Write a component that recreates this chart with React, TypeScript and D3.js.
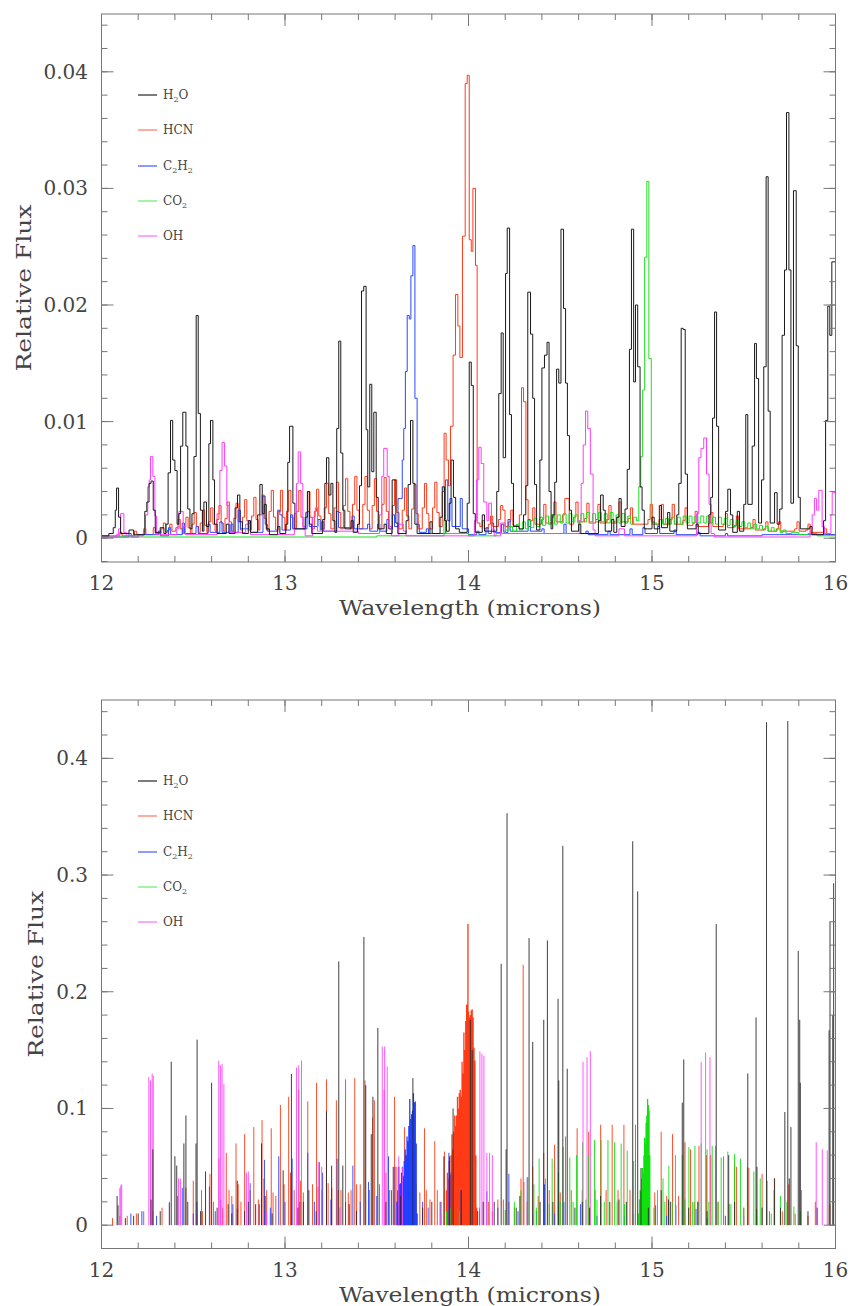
import React from "react";
import * as d3 from "d3";

// ---------------- data ----------------
const SPECIES = ["H2O", "HCN", "C2H2", "CO2", "OH"];
const X_TICKS = [12, 13, 14, 15, 16];
const TOP_Y_TICKS = [0, 0.01, 0.02, 0.03, 0.04];
const TOP_Y_LABELS = ["0", "0.01", "0.02", "0.03", "0.04"];
const BOT_Y_TICKS = [0, 0.1, 0.2, 0.3, 0.4];
const BOT_Y_LABELS = ["0", "0.1", "0.2", "0.3", "0.4"];

// Top panel: low-resolution step spectra, [bin start wavelength, flux]
const H2O_TOP: number[][] = [
  [12.0, 0.0002], [12.04, 0.0004], [12.064, 0.0009], [12.075, 0.0024], [12.082, 0.0043], [12.093, 0.0018], [12.104, 0.0004],
  [12.15, 0.0007], [12.175, 0.0003],
  [12.236, 0.0023], [12.247, 0.0031], [12.259, 0.0047], [12.27, 0.0049], [12.282, 0.0024], [12.293, 0.0005],
  [12.32, 0.0009], [12.34, 0.0004],
  [12.352, 0.0012], [12.363, 0.0056], [12.376, 0.0101], [12.388, 0.0067], [12.4, 0.0058], [12.412, 0.0012], [12.421, 0.0021],
  [12.431, 0.0079], [12.443, 0.0108], [12.46, 0.0079], [12.47, 0.0025], [12.482, 0.0008],
  [12.493, 0.0021], [12.504, 0.007], [12.516, 0.0191], [12.527, 0.0107], [12.539, 0.0024], [12.55, 0.0006],
  [12.558, 0.0031], [12.572, 0.001], [12.585, 0.0081], [12.594, 0.0101], [12.607, 0.005], [12.616, 0.0012], [12.63, 0.0004],
  [12.68, 0.0012], [12.695, 0.0004], [12.728, 0.0026], [12.741, 0.0037], [12.754, 0.0014], [12.768, 0.0004],
  [12.8, 0.0015], [12.812, 0.0005],
  [12.851, 0.002], [12.863, 0.0046], [12.876, 0.0021], [12.887, 0.0029], [12.898, 0.0008], [12.915, 0.0003],
  [12.96, 0.001], [12.972, 0.0004],
  [13.004, 0.0012], [13.015, 0.0065], [13.025, 0.0096], [13.043, 0.003], [13.054, 0.0008],
  [13.11, 0.0018], [13.122, 0.004], [13.133, 0.0012], [13.146, 0.0004],
  [13.205, 0.0016], [13.217, 0.0047], [13.226, 0.0069], [13.239, 0.0037], [13.25, 0.0047], [13.261, 0.0015], [13.272, 0.0005],
  [13.282, 0.0094], [13.293, 0.0169], [13.304, 0.0073], [13.315, 0.0024], [13.326, 0.0008],
  [13.36, 0.0015], [13.372, 0.0005], [13.395, 0.0012], [13.406, 0.0045],
  [13.417, 0.0212], [13.429, 0.0216], [13.442, 0.0093], [13.451, 0.0044], [13.462, 0.0132], [13.473, 0.0057], [13.484, 0.0108], [13.497, 0.0035], [13.508, 0.0008],
  [13.54, 0.0012], [13.552, 0.0004],
  [13.584, 0.005], [13.604, 0.0013], [13.615, 0.0004],
  [13.66, 0.0015], [13.671, 0.0046], [13.684, 0.0101], [13.697, 0.0047], [13.708, 0.0012], [13.72, 0.0004],
  [13.79, 0.0014], [13.802, 0.0004],
  [13.845, 0.0018], [13.857, 0.0044], [13.869, 0.0015], [13.88, 0.0006],
  [13.895, 0.003], [13.905, 0.0067], [13.918, 0.0035], [13.93, 0.0008],
  [13.95, 0.0005], [13.993, 0.003], [14.004, 0.0151], [14.015, 0.0131], [14.026, 0.0021], [14.037, 0.0005],
  [14.075, 0.002], [14.087, 0.0006],
  [14.154, 0.004], [14.165, 0.0124], [14.178, 0.0176], [14.189, 0.0069], [14.202, 0.0227], [14.211, 0.0266], [14.224, 0.0106], [14.234, 0.0047], [14.245, 0.001],
  [14.275, 0.0008], [14.3, 0.002], [14.312, 0.0045], [14.323, 0.0211], [14.338, 0.0175], [14.35, 0.012], [14.36, 0.0046], [14.371, 0.0007],
  [14.389, 0.0067], [14.4, 0.0146], [14.414, 0.0157], [14.428, 0.0168], [14.439, 0.004], [14.45, 0.0008],
  [14.459, 0.002], [14.47, 0.0048], [14.48, 0.0145], [14.492, 0.0133], [14.504, 0.0265], [14.518, 0.0197], [14.529, 0.0133], [14.539, 0.0088], [14.55, 0.0024], [14.561, 0.0006],
  [14.6, 0.0012], [14.612, 0.0004],
  [14.708, 0.0015], [14.72, 0.0037], [14.734, 0.0024], [14.745, 0.0006],
  [14.78, 0.0016], [14.792, 0.0005],
  [14.808, 0.0018], [14.82, 0.0034], [14.832, 0.001],
  [14.853, 0.0025], [14.865, 0.0059], [14.877, 0.0162], [14.888, 0.0265], [14.9, 0.0134], [14.91, 0.02], [14.922, 0.0147], [14.935, 0.0044], [14.946, 0.0024], [14.958, 0.0008],
  [15.0, 0.0018], [15.012, 0.0008], [15.04, 0.0028], [15.052, 0.0009], [15.085, 0.0022], [15.097, 0.0006],
  [15.135, 0.002], [15.146, 0.0047], [15.159, 0.018], [15.17, 0.0179], [15.181, 0.0055], [15.193, 0.0008],
  [15.24, 0.0012], [15.252, 0.0004],
  [15.31, 0.002], [15.32, 0.0035], [15.33, 0.0103], [15.341, 0.0194], [15.352, 0.0096], [15.363, 0.0007],
  [15.401, 0.0023], [15.413, 0.0042], [15.428, 0.002], [15.44, 0.0005],
  [15.465, 0.0023], [15.477, 0.0006],
  [15.5, 0.0029], [15.511, 0.0106], [15.522, 0.0029], [15.534, 0.0029], [15.546, 0.0079], [15.559, 0.0167], [15.569, 0.0137], [15.581, 0.0013],
  [15.597, 0.005], [15.609, 0.0147], [15.622, 0.031], [15.633, 0.0109], [15.644, 0.0013],
  [15.668, 0.0039], [15.682, 0.0012], [15.696, 0.0025],
  [15.709, 0.0174], [15.722, 0.023], [15.733, 0.0365], [15.746, 0.023], [15.757, 0.003], [15.771, 0.0298], [15.786, 0.0165], [15.797, 0.0035], [15.808, 0.0008],
  [15.86, 0.001], [15.872, 0.0003],
  [15.935, 0.0015], [15.946, 0.0101], [15.958, 0.0199], [15.969, 0.0174], [15.98, 0.0237], [16.0, 0.0237],
];

const HCN_TOP: number[][] = [
  [12.0, 0.0002], [12.1, 0.0005], [12.112, 0.0002], [12.18, 0.0006], [12.192, 0.0003], [12.23, 0.0008], [12.242, 0.0003], [12.282, 0.0009], [12.294, 0.0004],
  [12.325, 0.0008], [12.337, 0.0013], [12.349, 0.0005],
  [12.36, 0.0007], [12.372, 0.0012], [12.384, 0.0006],
  [12.405, 0.0009], [12.417, 0.0016], [12.429, 0.0008], [12.441, 0.0004],
  [12.448, 0.001], [12.46, 0.0018], [12.472, 0.0009], [12.484, 0.0004],
  [12.493, 0.0012], [12.505, 0.0022], [12.517, 0.001], [12.529, 0.0005],
  [12.538, 0.0013], [12.55, 0.0024], [12.562, 0.0011], [12.574, 0.0005],
  [12.583, 0.0014], [12.595, 0.0026], [12.607, 0.0012], [12.619, 0.0006],
  [12.628, 0.0016], [12.64, 0.0028], [12.652, 0.0013], [12.664, 0.0006],
  [12.673, 0.0017], [12.685, 0.0031], [12.697, 0.0014], [12.709, 0.0006],
  [12.721, 0.0017], [12.733, 0.003], [12.745, 0.0014], [12.757, 0.0007],
  [12.768, 0.0018], [12.78, 0.0033], [12.792, 0.0015], [12.804, 0.0007],
  [12.818, 0.0019], [12.83, 0.0035], [12.842, 0.0016], [12.854, 0.0007],
  [12.863, 0.002], [12.875, 0.0037], [12.887, 0.0017], [12.899, 0.0007],
  [12.913, 0.0023], [12.925, 0.0041], [12.937, 0.0018], [12.949, 0.0007],
  [12.963, 0.0023], [12.975, 0.0041], [12.987, 0.0018], [12.999, 0.0007],
  [13.008, 0.0023], [13.02, 0.0041], [13.032, 0.0018], [13.044, 0.0008],
  [13.063, 0.0023], [13.075, 0.0041], [13.087, 0.0018], [13.099, 0.0008],
  [13.112, 0.0022], [13.124, 0.004], [13.136, 0.0018], [13.148, 0.0008],
  [13.16, 0.0023], [13.172, 0.0042], [13.184, 0.0019], [13.196, 0.0008],
  [13.214, 0.0026], [13.226, 0.0047], [13.238, 0.0021], [13.25, 0.0008],
  [13.268, 0.0026], [13.28, 0.0048], [13.292, 0.0022], [13.304, 0.0008],
  [13.318, 0.0028], [13.33, 0.0051], [13.342, 0.0023], [13.354, 0.0008],
  [13.368, 0.0029], [13.38, 0.0053], [13.392, 0.0024], [13.404, 0.0008],
  [13.424, 0.0029], [13.436, 0.0053], [13.448, 0.0024], [13.46, 0.0008],
  [13.475, 0.0028], [13.487, 0.0051], [13.499, 0.0023], [13.511, 0.0008],
  [13.528, 0.0029], [13.54, 0.0052], [13.552, 0.0023], [13.564, 0.0008],
  [13.585, 0.0028], [13.597, 0.005], [13.609, 0.0022], [13.621, 0.0008],
  [13.639, 0.0024], [13.651, 0.0043], [13.663, 0.0019], [13.675, 0.0008],
  [13.69, 0.0025], [13.702, 0.0046], [13.714, 0.0021], [13.726, 0.0008],
  [13.748, 0.0026], [13.76, 0.0047], [13.772, 0.0021], [13.784, 0.0008],
  [13.804, 0.0026], [13.816, 0.0048], [13.828, 0.0022], [13.84, 0.001],
  [13.857, 0.004], [13.867, 0.009], [13.878, 0.0067], [13.891, 0.0045],
  [13.902, 0.0096], [13.916, 0.0157], [13.929, 0.0209], [13.942, 0.0182], [13.953, 0.0155], [13.967, 0.0259], [13.982, 0.039], [13.993, 0.0397], [14.004, 0.0256], [14.015, 0.0246], [14.024, 0.03], [14.038, 0.0234], [14.047, 0.0013],
  [14.062, 0.001], [14.074, 0.0015], [14.086, 0.0008],
  [14.108, 0.0012], [14.12, 0.0019], [14.132, 0.001],
  [14.163, 0.0016], [14.175, 0.0028], [14.187, 0.0024], [14.199, 0.001],
  [14.218, 0.0014], [14.23, 0.0024], [14.242, 0.0011],
  [14.277, 0.002], [14.289, 0.0129], [14.3, 0.0117], [14.313, 0.0033], [14.325, 0.001],
  [14.338, 0.0015], [14.35, 0.0026], [14.362, 0.0012],
  [14.398, 0.0016], [14.41, 0.0029], [14.422, 0.0013],
  [14.453, 0.0018], [14.465, 0.0031], [14.477, 0.0014],
  [14.513, 0.002], [14.525, 0.0034], [14.537, 0.0034], [14.549, 0.0012],
  [14.573, 0.0018], [14.585, 0.0031], [14.597, 0.0014],
  [14.633, 0.0017], [14.645, 0.003], [14.657, 0.0013],
  [14.693, 0.0016], [14.705, 0.0029], [14.717, 0.0013],
  [14.753, 0.0016], [14.765, 0.0028], [14.777, 0.0013],
  [14.808, 0.0018], [14.82, 0.0031], [14.832, 0.0014],
  [14.87, 0.0017], [14.882, 0.0026], [14.894, 0.0012],
  [14.978, 0.0016], [14.99, 0.0029], [15.002, 0.0012],
  [15.038, 0.0016], [15.05, 0.0029], [15.062, 0.0012],
  [15.098, 0.0016], [15.11, 0.0029], [15.122, 0.0012],
  [15.168, 0.0015], [15.18, 0.0026], [15.192, 0.0011],
  [15.223, 0.0013], [15.235, 0.0023], [15.247, 0.001],
  [15.308, 0.0013], [15.32, 0.0022], [15.332, 0.001],
  [15.388, 0.0012], [15.4, 0.0021], [15.412, 0.0009],
  [15.448, 0.0011], [15.46, 0.0019], [15.472, 0.0008],
  [15.538, 0.0009], [15.55, 0.0016], [15.562, 0.0007],
  [15.608, 0.0008], [15.62, 0.0014], [15.632, 0.0006],
  [15.678, 0.0008], [15.69, 0.0014], [15.702, 0.0006],
  [15.778, 0.0008], [15.79, 0.0014], [15.802, 0.0006],
  [15.838, 0.0007], [15.85, 0.0012], [15.862, 0.0005],
  [15.928, 0.0005], [15.94, 0.0008], [15.952, 0.0003], [16.0, 0.0003],
];

const C2H2_TOP: number[][] = [
  [12.0, 0.0001], [12.15, 0.0004], [12.162, 0.0001], [12.2, 0.0003],
  [12.31, 0.0006], [12.322, 0.0002], [12.365, 0.0009], [12.377, 0.0003],
  [12.44, 0.0013], [12.452, 0.0004], [12.515, 0.001], [12.527, 0.0004],
  [12.58, 0.0012], [12.592, 0.0005], [12.645, 0.0014], [12.657, 0.0005],
  [12.705, 0.0012], [12.717, 0.0005], [12.745, 0.0024], [12.757, 0.0008],
  [12.8, 0.0013], [12.812, 0.0005], [12.88, 0.0036], [12.892, 0.0012], [12.904, 0.0006],
  [12.96, 0.0024], [12.972, 0.002], [12.984, 0.0007],
  [13.03, 0.002], [13.042, 0.0008], [13.12, 0.0023], [13.132, 0.001],
  [13.18, 0.0016], [13.192, 0.0007], [13.2, 0.0014], [13.212, 0.0006],
  [13.28, 0.0023], [13.292, 0.0009], [13.365, 0.0019], [13.377, 0.0008],
  [13.45, 0.0012], [13.462, 0.0006], [13.505, 0.0012], [13.517, 0.0006],
  [13.555, 0.0016], [13.567, 0.0008], [13.585, 0.002], [13.597, 0.001],
  [13.616, 0.0034], [13.628, 0.0034], [13.639, 0.0067], [13.647, 0.0094], [13.656, 0.0143], [13.666, 0.0191], [13.677, 0.0188], [13.686, 0.0225], [13.697, 0.0251], [13.708, 0.012], [13.72, 0.0012], [13.732, 0.0005],
  [13.77, 0.0008], [13.782, 0.0004], [13.875, 0.005], [13.887, 0.0015], [13.899, 0.0034], [13.91, 0.001],
  [13.955, 0.0034], [13.966, 0.0008], [14.0, 0.0003], [14.045, 0.0006], [14.057, 0.0003],
  [14.095, 0.0009], [14.107, 0.0004], [14.125, 0.0013], [14.137, 0.0005], [14.18, 0.0012], [14.192, 0.0005],
  [14.215, 0.0016], [14.227, 0.0006], [14.325, 0.0016], [14.337, 0.0006],
  [14.4, 0.0008], [14.412, 0.0004], [14.52, 0.0012], [14.532, 0.0004],
  [14.64, 0.0006], [14.652, 0.0003], [14.76, 0.0006], [14.772, 0.0003],
  [14.88, 0.0008], [14.892, 0.0003], [14.95, 0.0009], [14.962, 0.0004],
  [15.03, 0.001], [15.042, 0.0004], [15.12, 0.0007], [15.132, 0.0003],
  [15.25, 0.0005], [15.262, 0.0002], [15.4, 0.0004], [15.412, 0.0002],
  [15.6, 0.0003], [16.0, 0.0002],
];

const CO2_TOP: number[][] = [
  [12.0, 0.0001], [13.5, 0.0002], [13.866, 0.0016], [13.878, 0.0004], [14.0, 0.0002],
  [14.15, 0.0004], [14.2, 0.0007], [14.22, 0.001], [14.24, 0.0006], [14.262, 0.0012], [14.278, 0.0007], [14.295, 0.0014], [14.31, 0.0008],
  [14.325, 0.0015], [14.34, 0.0009], [14.356, 0.0017], [14.372, 0.001], [14.388, 0.0018], [14.403, 0.0011], [14.42, 0.0019], [14.436, 0.0012],
  [14.452, 0.002], [14.468, 0.0012], [14.484, 0.002], [14.5, 0.0013], [14.516, 0.0021], [14.532, 0.0013], [14.548, 0.0021], [14.564, 0.0014],
  [14.58, 0.002], [14.596, 0.0013], [14.612, 0.0021], [14.628, 0.0014], [14.644, 0.0022], [14.66, 0.0014], [14.676, 0.0021], [14.692, 0.0014],
  [14.708, 0.0022], [14.724, 0.0014], [14.74, 0.0021], [14.756, 0.0013], [14.772, 0.0022], [14.788, 0.0014], [14.804, 0.002], [14.82, 0.0013],
  [14.836, 0.0021], [14.852, 0.0013], [14.868, 0.0019], [14.884, 0.0012], [14.9, 0.0018], [14.916, 0.0015],
  [14.928, 0.0044], [14.939, 0.007], [14.949, 0.0127], [14.96, 0.0241], [14.972, 0.0306], [14.983, 0.0154], [14.996, 0.0014],
  [15.01, 0.0013], [15.026, 0.0011], [15.042, 0.0016], [15.058, 0.0012], [15.074, 0.0017], [15.09, 0.0012], [15.106, 0.0018], [15.122, 0.0012],
  [15.138, 0.0018], [15.154, 0.0012], [15.17, 0.0019], [15.186, 0.0013], [15.202, 0.0019], [15.218, 0.0013], [15.234, 0.0019], [15.25, 0.0013],
  [15.266, 0.0019], [15.282, 0.0013], [15.298, 0.0019], [15.314, 0.0013], [15.33, 0.0018], [15.346, 0.0012], [15.362, 0.0018], [15.378, 0.0012],
  [15.394, 0.0017], [15.41, 0.0011], [15.426, 0.0016], [15.442, 0.001], [15.458, 0.0015], [15.474, 0.001], [15.49, 0.0014], [15.506, 0.0009],
  [15.522, 0.0013], [15.538, 0.0008], [15.554, 0.0012], [15.57, 0.0008], [15.586, 0.0011], [15.602, 0.0007], [15.618, 0.001], [15.634, 0.0006],
  [15.65, 0.0009], [15.666, 0.0006], [15.682, 0.0008], [15.698, 0.0005], [15.714, 0.0007], [15.73, 0.0004], [15.76, 0.0005], [15.8, 0.0003],
  [15.85, 0.0004], [15.9, 0.0002], [16.0, 0.0002],
];

const OH_TOP: number[][] = [
  [12.0, 0.0001], [12.081, 0.0003], [12.093, 0.0008], [12.104, 0.0021], [12.116, 0.0021], [12.122, 0.0005], [12.135, 0.0002],
  [12.228, 0.0006], [12.24, 0.002], [12.252, 0.0044], [12.26, 0.005], [12.267, 0.007], [12.28, 0.0053], [12.291, 0.0019], [12.3, 0.0003],
  [12.41, 0.0008], [12.422, 0.0023], [12.445, 0.001], [12.457, 0.0003],
  [12.63, 0.0021], [12.645, 0.0058], [12.657, 0.0082], [12.67, 0.0062], [12.683, 0.0028], [12.695, 0.0005],
  [12.785, 0.0012], [12.8, 0.0015], [12.812, 0.0003],
  [13.051, 0.0021], [13.063, 0.0047], [13.072, 0.0074], [13.085, 0.0047], [13.097, 0.001], [13.11, 0.0002],
  [13.15, 0.0018], [13.165, 0.0026], [13.177, 0.0006],
  [13.4, 0.0004], [13.515, 0.002], [13.527, 0.0053], [13.538, 0.0077], [13.557, 0.0053], [13.568, 0.001], [13.58, 0.0002],
  [13.62, 0.0012], [13.645, 0.0006], [13.66, 0.0002],
  [14.032, 0.0015], [14.044, 0.005], [14.056, 0.0078], [14.069, 0.0064], [14.083, 0.0031], [14.1, 0.0015], [14.11, 0.003], [14.125, 0.0008], [14.14, 0.0002],
  [14.175, 0.0013], [14.2, 0.0004],
  [14.603, 0.0015], [14.614, 0.0047], [14.625, 0.008], [14.638, 0.0109], [14.65, 0.0094], [14.664, 0.0055], [14.679, 0.0007], [14.69, 0.0002],
  [14.82, 0.0008], [14.85, 0.0002],
  [15.243, 0.0021], [15.255, 0.0069], [15.267, 0.0077], [15.282, 0.0086], [15.297, 0.0055], [15.311, 0.0029], [15.322, 0.0004], [15.34, 0.0001],
  [15.861, 0.0006], [15.873, 0.002], [15.885, 0.0034], [15.897, 0.0024], [15.909, 0.0041], [15.927, 0.001], [15.94, 0.0004],
  [15.975, 0.002], [15.982, 0.0039], [16.0, 0.0039],
];

// Bottom panel: high-resolution line spectra, [wavelength, peak flux]
const H2O_LINES: number[][] = [
  [12.085, 0.025], [12.09, 0.017], [12.175, 0.008], [12.27, 0.022], [12.28, 0.065], [12.38, 0.14], [12.4, 0.059], [12.41, 0.051],
  [12.449, 0.07], [12.46, 0.094], [12.515, 0.07], [12.521, 0.159], [12.567, 0.046], [12.6, 0.122], [12.69, 0.018], [12.74, 0.038],
  [12.8, 0.02], [12.872, 0.07], [12.892, 0.025], [12.99, 0.047], [13.035, 0.1295], [13.13, 0.03], [13.226, 0.0975], [13.254, 0.051],
  [13.293, 0.226], [13.315, 0.051], [13.43, 0.247], [13.44, 0.12], [13.47, 0.078], [13.479, 0.11], [13.506, 0.169], [13.59, 0.05],
  [13.697, 0.126], [13.866, 0.059], [13.897, 0.059], [13.916, 0.1], [14.01, 0.176], [14.02, 0.15], [14.08, 0.02], [14.178, 0.224],
  [14.205, 0.065], [14.21, 0.353], [14.33, 0.246], [14.35, 0.157], [14.41, 0.176], [14.43, 0.244], [14.488, 0.194], [14.492, 0.124],
  [14.514, 0.325], [14.538, 0.134], [14.72, 0.025], [14.82, 0.022], [14.895, 0.329], [14.922, 0.286], [14.94, 0.049], [15.05, 0.03],
  [15.09, 0.022], [15.165, 0.105], [15.173, 0.142], [15.35, 0.258], [15.418, 0.06], [15.522, 0.13], [15.567, 0.178], [15.572, 0.05],
  [15.624, 0.431], [15.668, 0.04], [15.724, 0.097], [15.74, 0.432], [15.748, 0.04], [15.757, 0.084], [15.797, 0.235], [15.805, 0.176],
  [15.808, 0.122], [15.965, 0.167], [15.97, 0.26], [15.985, 0.18], [15.99, 0.293],
];
const H2O_WEAK: number[][] = [
  [12.13, 0.006], [12.2, 0.01], [12.32, 0.012], [12.47, 0.02], [12.54, 0.012], [12.63, 0.015], [12.71, 0.01], [12.78, 0.012],
  [12.84, 0.018], [12.93, 0.01], [13.07, 0.015], [13.1, 0.02], [13.17, 0.012], [13.35, 0.018], [13.39, 0.012], [13.55, 0.02],
  [13.63, 0.025], [13.75, 0.015], [13.8, 0.02], [13.96, 0.03], [14.05, 0.012], [14.14, 0.02], [14.26, 0.015], [14.28, 0.025],
  [14.39, 0.02], [14.46, 0.02], [14.58, 0.015], [14.62, 0.02], [14.66, 0.015], [14.77, 0.02], [14.86, 0.02], [14.98, 0.015],
  [15.1, 0.02], [15.2, 0.015], [15.25, 0.02], [15.3, 0.012], [15.45, 0.02], [15.6, 0.015], [15.7, 0.015], [15.85, 0.012], [15.9, 0.015],
];

const HCN_LINES: number[][] = [
  [12.06, 0.006], [12.1, 0.008], [12.14, 0.008], [12.19, 0.01], [12.23, 0.012], [12.28, 0.012], [12.33, 0.015], [12.37, 0.02],
  [12.415, 0.025], [12.46, 0.032], [12.5, 0.038], [12.545, 0.03], [12.591, 0.044], [12.64, 0.057], [12.68, 0.062], [12.733, 0.07],
  [12.78, 0.078], [12.83, 0.084], [12.875, 0.09], [12.925, 0.083], [12.975, 0.103], [13.02, 0.11], [13.075, 0.116], [13.124, 0.106],
  [13.172, 0.122], [13.226, 0.125], [13.28, 0.107], [13.33, 0.125], [13.38, 0.126], [13.436, 0.124], [13.487, 0.107], [13.54, 0.116],
  [13.597, 0.11], [13.651, 0.084], [13.702, 0.094], [13.76, 0.083], [13.816, 0.072], [13.869, 0.063],
  [12.695, 0.03], [12.745, 0.035], [12.885, 0.04], [12.935, 0.028], [13.03, 0.045], [13.085, 0.038], [13.18, 0.033], [13.235, 0.036],
  [13.29, 0.03], [13.345, 0.028], [13.39, 0.035], [13.478, 0.092], [13.55, 0.045], [13.61, 0.05], [13.66, 0.04], [13.715, 0.035],
  [13.77, 0.03], [13.83, 0.03],
  [14.06, 0.015], [14.11, 0.02], [14.16, 0.022], [14.19, 0.022], [14.22, 0.02], [14.286, 0.04], [14.298, 0.223], [14.302, 0.037],
  [14.35, 0.05], [14.41, 0.062], [14.469, 0.069], [14.529, 0.076], [14.592, 0.083], [14.655, 0.08], [14.72, 0.086], [14.783, 0.086],
  [14.847, 0.086], [14.91, 0.086], [14.98, 0.07], [15.05, 0.08], [15.112, 0.078], [15.18, 0.071], [15.21, 0.065], [15.256, 0.068],
  [15.297, 0.06], [15.32, 0.06], [15.39, 0.059], [15.45, 0.054], [15.46, 0.05], [15.528, 0.049], [15.6, 0.044], [15.667, 0.04],
  [15.745, 0.035], [15.814, 0.03], [15.89, 0.02], [15.97, 0.018],
];
const HCN_WEAK: number[][] = [
  [12.55, 0.012], [12.61, 0.02], [12.66, 0.015], [12.71, 0.025], [12.76, 0.02], [12.81, 0.03], [12.855, 0.022], [12.9, 0.03],
  [12.95, 0.025], [12.995, 0.035], [13.05, 0.03], [13.1, 0.028], [13.15, 0.035], [13.2, 0.03], [13.255, 0.032], [13.305, 0.03],
  [13.36, 0.03], [13.41, 0.035], [13.46, 0.03], [13.515, 0.035], [13.57, 0.03], [13.625, 0.025], [13.68, 0.03], [13.735, 0.028],
  [13.79, 0.022], [13.845, 0.02], [14.13, 0.012], [14.25, 0.015], [14.32, 0.02], [14.38, 0.025], [14.44, 0.03], [14.5, 0.028],
  [14.56, 0.03], [14.62, 0.03], [14.69, 0.03], [14.75, 0.03], [14.815, 0.03], [14.88, 0.03], [14.945, 0.025], [15.015, 0.028],
  [15.08, 0.025], [15.145, 0.025], [15.23, 0.02], [15.36, 0.02], [15.42, 0.018], [15.5, 0.015], [15.57, 0.014], [15.64, 0.012],
  [15.71, 0.012], [15.78, 0.01], [15.85, 0.008],
];

const HCN_QBAND: number[][] = [
  [13.88, 0.03], [13.885, 0.045], [13.89, 0.04], [13.895, 0.055], [13.9, 0.043], [13.905, 0.06], [13.91, 0.078], [13.915, 0.065],
  [13.92, 0.08], [13.925, 0.094], [13.93, 0.085], [13.935, 0.094], [13.94, 0.11], [13.945, 0.1], [13.95, 0.113], [13.955, 0.116],
  [13.96, 0.11], [13.965, 0.14], [13.97, 0.13], [13.975, 0.165], [13.98, 0.15], [13.985, 0.175], [13.99, 0.189], [13.995, 0.17],
  [13.997, 0.258], [14.0, 0.183], [14.005, 0.178], [14.01, 0.18], [14.015, 0.184], [14.02, 0.185], [14.025, 0.178], [14.03, 0.152],
  [14.035, 0.141], [14.04, 0.06], [14.045, 0.015],
];

const C2H2_LINES: number[][] = [
  [12.16, 0.01], [12.22, 0.012], [12.37, 0.019], [12.44, 0.032], [12.52, 0.02], [12.588, 0.033], [12.65, 0.022], [12.716, 0.018],
  [12.81, 0.036], [12.888, 0.056], [12.966, 0.059], [13.039, 0.057], [13.124, 0.062], [13.187, 0.054], [13.205, 0.045], [13.284, 0.057],
  [13.37, 0.051], [13.455, 0.037], [13.564, 0.059], [13.6, 0.05], [13.75, 0.02], [13.893, 0.062], [13.905, 0.045], [13.96, 0.03],
  [14.1, 0.029], [14.22, 0.044], [14.32, 0.041], [14.414, 0.035], [14.52, 0.02], [14.61, 0.018], [14.98, 0.02], [15.02, 0.017],
  [15.13, 0.017], [15.24, 0.014], [15.4, 0.008],
];
const C2H2_WEAK: number[][] = [
  [12.3, 0.008], [12.5, 0.01], [12.62, 0.012], [12.74, 0.014], [12.86, 0.018], [12.92, 0.015], [13.0, 0.02], [13.08, 0.02],
  [13.16, 0.02], [13.25, 0.022], [13.33, 0.02], [13.41, 0.02], [13.5, 0.025], [13.58, 0.03], [13.78, 0.015], [13.85, 0.02],
  [14.06, 0.012], [14.16, 0.015], [14.27, 0.012], [14.37, 0.012], [14.47, 0.01], [14.7, 0.008], [14.85, 0.008], [15.08, 0.008], [15.3, 0.006],
];

const C2H2_QBAND: number[][] = [
  [13.61, 0.02], [13.615, 0.03], [13.62, 0.05], [13.625, 0.035], [13.63, 0.036], [13.635, 0.045], [13.64, 0.05], [13.645, 0.042],
  [13.65, 0.055], [13.655, 0.065], [13.66, 0.06], [13.665, 0.076], [13.67, 0.072], [13.675, 0.085], [13.68, 0.108], [13.685, 0.091],
  [13.69, 0.095], [13.695, 0.098], [13.7, 0.113], [13.705, 0.105], [13.71, 0.106], [13.715, 0.07], [13.72, 0.01],
];

const CO2_LINES: number[][] = [
  [13.88, 0.012], [13.9, 0.015], [13.95, 0.012], [14.2, 0.013], [14.25, 0.02], [14.286, 0.03], [14.323, 0.041], [14.356, 0.035],
  [14.385, 0.057], [14.42, 0.04], [14.456, 0.057], [14.49, 0.045], [14.516, 0.067], [14.552, 0.058], [14.589, 0.06], [14.622, 0.071],
  [14.655, 0.06], [14.687, 0.073], [14.723, 0.073], [14.76, 0.073], [14.796, 0.071], [14.832, 0.07], [14.865, 0.064], [14.9, 0.055],
  [15.03, 0.03], [15.06, 0.04], [15.092, 0.051], [15.128, 0.06], [15.165, 0.06], [15.201, 0.067], [15.234, 0.068], [15.268, 0.07],
  [15.3, 0.065], [15.328, 0.068], [15.346, 0.068], [15.377, 0.058], [15.413, 0.063], [15.45, 0.061], [15.482, 0.057], [15.52, 0.05],
  [15.555, 0.046], [15.59, 0.04], [15.628, 0.038], [15.665, 0.03], [15.7, 0.025], [15.735, 0.02], [15.773, 0.016], [15.81, 0.012],
];
const CO2_WEAK: number[][] = [
  [14.37, 0.015], [14.44, 0.018], [14.5, 0.02], [14.57, 0.02], [14.64, 0.022], [14.7, 0.022], [14.74, 0.02], [14.81, 0.02],
  [14.85, 0.018], [15.01, 0.015], [15.07, 0.02], [15.11, 0.02], [15.18, 0.022], [15.22, 0.02], [15.25, 0.02], [15.31, 0.02],
  [15.36, 0.02], [15.43, 0.018], [15.5, 0.015], [15.57, 0.012], [15.65, 0.01],
];

const CO2_QBAND: number[][] = [
  [14.928, 0.01], [14.932, 0.022], [14.936, 0.03], [14.94, 0.028], [14.944, 0.04], [14.948, 0.049], [14.952, 0.045], [14.956, 0.06],
  [14.96, 0.075], [14.964, 0.07], [14.968, 0.088], [14.972, 0.094], [14.976, 0.108], [14.98, 0.103], [14.984, 0.098], [14.988, 0.06],
];

const OH_LINES: number[][] = [
  [12.1, 0.032], [12.105, 0.034], [12.11, 0.035], [12.258, 0.127], [12.267, 0.124], [12.276, 0.13], [12.282, 0.128], [12.42, 0.04],
  [12.43, 0.04], [12.639, 0.141], [12.648, 0.137], [12.657, 0.138], [12.667, 0.121], [12.79, 0.045], [12.8, 0.046], [13.063, 0.135],
  [13.075, 0.137], [13.09, 0.141], [13.184, 0.054], [13.2, 0.05], [13.53, 0.153], [13.543, 0.153], [13.557, 0.136], [13.62, 0.059],
  [13.64, 0.05], [14.062, 0.149], [14.073, 0.147], [14.084, 0.145], [14.1, 0.062], [14.115, 0.062], [14.13, 0.06], [14.624, 0.14],
  [14.646, 0.144], [14.664, 0.149], [15.268, 0.14], [15.292, 0.148], [15.316, 0.144], [15.895, 0.071], [15.928, 0.065], [15.955, 0.064],
];
const OH_WEAK: number[][] = [
  [12.52, 0.01], [12.9, 0.012], [13.3, 0.015], [13.85, 0.01], [14.35, 0.01], [14.9, 0.01], [15.5, 0.008],
];

// ---------------- styling ----------------
const W = 851;
const H = 1306;
const PLOT_X = [101.5, 835.5];
const FONT = "'DejaVu Serif', 'Liberation Serif', serif";
const TEXT = "#444";
const AXIS = "#777";

const LINE_COLOR: Record<string, string> = {
  H2O: "#1a1a1a",
  HCN: "#ff3a1a",
  C2H2: "#2a48ff",
  CO2: "#1ee01e",
  OH: "#ff3cff",
};
const SPIKE_COLOR: Record<string, string> = {
  H2O: "#2a2a2a",
  HCN: "#ff3a14",
  C2H2: "#2040ff",
  CO2: "#10e010",
  OH: "#ff44ff",
};
const LEGEND_COLOR: Record<string, string> = {
  H2O: "#444444",
  HCN: "#ff8a78",
  C2H2: "#5a72ff",
  CO2: "#80ee80",
  OH: "#ff80ff",
};

const x = d3.scaleLinear().domain([12, 16]).range(PLOT_X);

function Label({ name, xPos, yPos }: { name: string; xPos: number; yPos: number }) {
  const parts = name.match(/[A-Z][a-z]?|\d+/g) || [];
  return (
    <text x={xPos} y={yPos} fontFamily={FONT} fontSize={12} fill={TEXT}>
      {parts.map((p, i) =>
        /\d/.test(p) ? (
          <tspan key={i} fontSize={8} dy={3}>{p}</tspan>
        ) : (
          <tspan key={i} dy={i > 0 && /\d/.test(parts[i - 1]) ? -3 : 0}>{p}</tspan>
        )
      )}
    </text>
  );
}

function Axes({ y, top, bottom, majors, labels, minorStep, minorStart, ylabelX }: any) {
  const [x0, x1] = PLOT_X;
  const minors = d3.range(minorStart, y.domain()[1] + 1e-9, minorStep);
  const xMinors = d3.range(12, 16.0001, 0.2);
  const els: any[] = [];
  minors.forEach((v: number, i: number) => {
    const yy = y(v);
    els.push(<line key={"ml" + i} x1={x0} x2={x0 + 6} y1={yy} y2={yy} />);
    els.push(<line key={"mr" + i} x1={x1} x2={x1 - 6} y1={yy} y2={yy} />);
  });
  majors.forEach((v: number, i: number) => {
    const yy = y(v);
    els.push(<line key={"Ml" + i} x1={x0} x2={x0 + 12} y1={yy} y2={yy} />);
    els.push(<line key={"Mr" + i} x1={x1} x2={x1 - 12} y1={yy} y2={yy} />);
  });
  xMinors.forEach((v: number, i: number) => {
    const xx = x(v);
    els.push(<line key={"xb" + i} x1={xx} x2={xx} y1={bottom} y2={bottom - 6} />);
    els.push(<line key={"xt" + i} x1={xx} x2={xx} y1={top} y2={top + 6} />);
  });
  X_TICKS.forEach((v, i) => {
    const xx = x(v);
    els.push(<line key={"XB" + i} x1={xx} x2={xx} y1={bottom} y2={bottom - 12} />);
    els.push(<line key={"XT" + i} x1={xx} x2={xx} y1={top} y2={top + 12} />);
  });
  return (
    <g>
      <g stroke={AXIS} strokeWidth={1} fill="none">
        <rect x={x0} y={top} width={x1 - x0} height={bottom - top} />
        {els}
      </g>
      <g fontFamily={FONT} fontSize={20} fill={TEXT}>
        {majors.map((v: number, i: number) => (
          <text key={i} x={88} y={y(v) + 7} textAnchor="end">{labels[i]}</text>
        ))}
        {X_TICKS.map((v, i) => (
          <text key={i} x={x(v)} y={bottom + 28} textAnchor="middle">{String(v)}</text>
        ))}
        <text x={470} y={bottom + 53} textAnchor="middle" textLength={262} lengthAdjust="spacingAndGlyphs">
          Wavelength (microns)
        </text>
        <text
          transform={`translate(${ylabelX},${(top + bottom) / 2}) rotate(-90)`}
          textAnchor="middle"
          textLength={167}
          lengthAdjust="spacingAndGlyphs"
        >
          Relative Flux
        </text>
      </g>
    </g>
  );
}

function Legend({ top }: { top: number }) {
  return (
    <g>
      {SPECIES.map((s, i) => {
        const yy = Math.round(top + 81 + 35.25 * i);
        return (
          <g key={s}>
            <line x1={138} x2={157} y1={yy} y2={yy} stroke={LEGEND_COLOR[s]} strokeWidth={1.4} />
            <Label name={s} xPos={163} yPos={yy + 4} />
          </g>
        );
      })}
    </g>
  );
}

export default function App() {
  const topT = 14, topB = 562;
  const yTop = d3.scaleLinear().domain([-0.002, 0.045]).range([topB - 0.5, topT - 0.5]);
  const botT = 700, botB = 1248.5;
  const yBot = d3.scaleLinear().domain([-0.02, 0.45]).range([botB, botT]);

  const step = (data: number[][]) =>
    d3.line<number[]>().x((d) => x(d[0])).y((d) => yTop(d[1])).curve(d3.curveStepAfter)(data) || "";

  const spikes = (data: number[][]) =>
    data.map((d) => `M${x(d[0]).toFixed(2)},${yBot(0).toFixed(2)}V${yBot(d[1]).toFixed(2)}`).join("");

  const topSeries: [string, number[][]][] = [
    ["HCN", HCN_TOP],
    ["C2H2", C2H2_TOP],
    ["CO2", CO2_TOP],
    ["OH", OH_TOP],
    ["H2O", H2O_TOP],
  ];

  return (
    <div style={{ position: "absolute", left: 0, top: 0 }}>
      <svg width={W} height={H} viewBox={`0 0 ${W} ${H}`} style={{ display: "block", background: "#fff" }}>
        <defs>
          <clipPath id="clipTop">
            <rect x={PLOT_X[0]} y={topT} width={PLOT_X[1] - PLOT_X[0]} height={topB - topT} />
          </clipPath>
          <clipPath id="clipBot">
            <rect x={PLOT_X[0]} y={botT} width={PLOT_X[1] - PLOT_X[0]} height={botB - botT} />
          </clipPath>
        </defs>
        <rect x={0} y={0} width={W} height={H} fill="#fff" />

        {/* Top panel */}
        <g clipPath="url(#clipTop)" fill="none">
          {topSeries.map(([s, data]) => (
            <path key={s} d={step(data)} stroke={LINE_COLOR[s]} strokeWidth={1} />
          ))}
        </g>
        <Axes
          y={yTop}
          top={topT}
          bottom={topB}
          majors={TOP_Y_TICKS}
          labels={TOP_Y_LABELS}
          minorStep={0.002}
          minorStart={-0.002}
          ylabelX={31}
        />
        <Legend top={topT} />

        {/* Bottom panel */}
        <g clipPath="url(#clipBot)" fill="none">
          <path d={spikes(HCN_WEAK)} stroke={SPIKE_COLOR.HCN} strokeWidth={0.9} />
          <path d={spikes(HCN_QBAND)} stroke={SPIKE_COLOR.HCN} strokeWidth={1.3} />
          <path d={spikes(HCN_LINES)} stroke={SPIKE_COLOR.HCN} strokeWidth={0.9} />
          <path d={spikes(C2H2_WEAK)} stroke={SPIKE_COLOR.C2H2} strokeWidth={0.9} />
          <path d={spikes(C2H2_QBAND)} stroke={SPIKE_COLOR.C2H2} strokeWidth={1.3} />
          <path d={spikes(C2H2_LINES)} stroke={SPIKE_COLOR.C2H2} strokeWidth={0.9} />
          <path d={spikes(CO2_WEAK)} stroke={SPIKE_COLOR.CO2} strokeWidth={0.9} />
          <path d={spikes(CO2_QBAND)} stroke={SPIKE_COLOR.CO2} strokeWidth={1.3} />
          <path d={spikes(CO2_LINES)} stroke={SPIKE_COLOR.CO2} strokeWidth={0.9} />
          <path d={spikes(OH_WEAK)} stroke={SPIKE_COLOR.OH} strokeWidth={0.9} />
          <path d={spikes(OH_LINES)} stroke={SPIKE_COLOR.OH} strokeWidth={0.9} />
          <path d={spikes(H2O_WEAK)} stroke={SPIKE_COLOR.H2O} strokeWidth={0.9} />
          <path d={spikes(H2O_LINES)} stroke={SPIKE_COLOR.H2O} strokeWidth={0.9} />
        </g>
        <Axes
          y={yBot}
          top={botT}
          bottom={botB}
          majors={BOT_Y_TICKS}
          labels={BOT_Y_LABELS}
          minorStep={0.02}
          minorStart={-0.02}
          ylabelX={43}
        />
        <Legend top={botT} />
      </svg>
    </div>
  );
}
